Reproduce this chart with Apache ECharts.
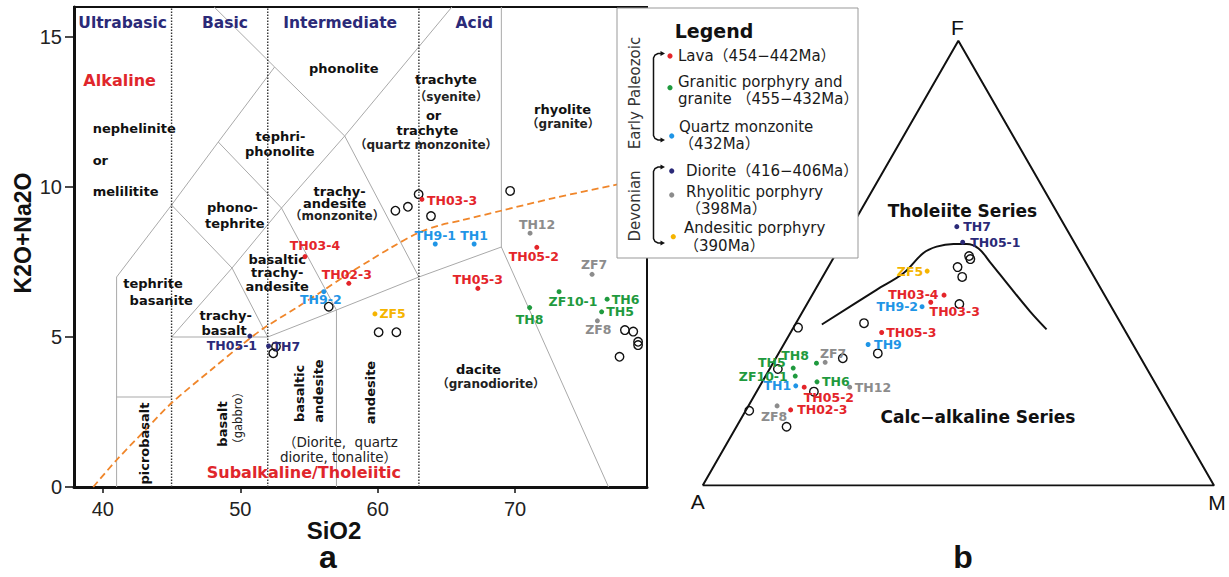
<!DOCTYPE html>
<html><head><meta charset="utf-8">
<script src="https://cdn.jsdelivr.net/npm/echarts@6/dist/echarts.min.js"></script>
<style>html,body{margin:0;padding:0;background:#fff}#c{width:1229px;height:577px}</style>
</head><body><div id="c"></div>
<script>
// ================= DATA =================
// TAS diagram: [SiO2, K2O+Na2O]
const lavaTasNames = ['TH03-3','TH03-4','TH02-3','TH05-3','TH05-2'];
const lavaTas = [[63.22,9.59],[54.71,7.68],[57.9,6.79],[67.29,6.62],[71.58,7.99]];
const graniteTasNames = ['TH8','ZF10-1','TH6','TH5'];
const graniteTas = [[71.06,5.98],[73.2,6.51],[76.7,6.26],[76.3,5.84]];
const qmTasNames = ['TH9-1','TH1','TH9-2'];
const qmTas = [[64.19,8.1],[67.02,8.1],[56.08,6.51]];
const dioriteTasNames = ['TH05-1','TH7'];
const dioriteTas = [[50.7,5.03],[52.06,4.7]];
const rhyTasNames = ['TH12','ZF7','ZF8'];
const rhyTas = [[71.09,8.46],[75.6,7.09],[75.99,5.54]];
const andTasNames = ['ZF5'];
const andTas = [[59.8,5.77]];
const refTas = [[52.6,4.68],[52.4,4.46],[56.44,6.01],[60.07,5.16],[61.36,5.16],[61.29,9.21],[62.2,9.34],
  [62.98,9.76],[63.88,9.03],[69.64,9.87],[77.99,5.23],[78.6,5.18],[78.95,4.84],[78.95,4.73],[77.6,4.34]];

// AFM diagram: [A, F, M] (%)
const lavaAfmNames = ['TH03-4','TH03-3','TH05-3','TH05-2','TH02-3'];
const lavaAfm = [[31.4,42.8,25.8],[34.8,41.2,24.0],[47.8,34.4,17.8],[69.1,22.1,8.8],[74.3,17.0,8.7]];
const graniteAfmNames = ['TH8','TH5','ZF10-1','TH6'];
const graniteAfm = [[64.0,27.5,8.5],[69.1,26.4,4.5],[69.6,24.6,5.8],[66.0,23.3,10.7]];
const qmAfmNames = ['TH9-2','TH9','TH1'];
const qmAfm = [[37.0,40.2,22.8],[51.8,31.7,16.5],[70.6,22.4,7.0]];
const dioriteAfmNames = ['TH7','TH05-1'];
const dioriteAfm = [[21.2,58.2,20.6],[21.8,54.7,23.5]];
const rhyAfmNames = ['ZF7','TH12','ZF8'];
const rhyAfm = [[62.2,27.7,10.1],[60.2,22.1,17.7],[76.5,17.9,5.6]];
const andAfmNames = ['ZF5'];
const andAfm = [[32.0,48.2,19.8]];
const refAfm = [[22.1,51.6,26.3],[22.2,50.9,26.9],[25.6,49.1,25.3],[25.8,46.9,27.3],[29.4,40.8,29.8],
  [50.2,36.5,13.3],[50.9,29.7,19.4],[63.6,35.5,0.9],[58.3,28.6,13.1],[67.7,21.1,11.2],[82.5,16.8,0.7],
  [77.0,13.2,9.8],[72.2,26.2,1.6]];

// TAS field boundaries (SiO2, K2O+Na2O)
const tasFieldLines = [
  [[41,0],[41,7],[45,9.4],[48.4,11.5],[52.5,14],[48.1,16]],
  [[41,3],[45,3]],
  [[45,5],[52,5]],
  [[45,9.4],[49.4,7.3],[53,9.3],[57,5.9]],
  [[45,5],[49.4,7.3],[52,5]],
  [[48.4,11.5],[53,9.3],[57.6,11.7],[63,7]],
  [[52.5,14],[57.6,11.7],[65.4,16]],
  [[52,5],[57,5.9],[63,7],[69,8],[76.8,0]],
  [[57,0],[57,5.9]],
  [[69,8],[69,16]]
];
const silicaDivisions = [45, 52, 63];
// Alkaline / subalkaline divide (Irvine & Baragar)
const alkalineDivide = [[39.3,0],[41,0.9],[43.3,2.0],[45,2.8],[48,3.95],[50,4.7],[51.7,5.29],[54,5.95],[56.1,6.57],
  [58,7.15],[59.5,7.57],[60.9,7.96],[62.9,8.46],[64.5,8.72],[66.2,8.9],[68.9,9.2],[72.8,9.63],[77.3,10.07],[79.6,10.3]];
// Tholeiite / calc-alkaline divide [A,F,M]
const tholeiiteDivide = [[58.6,36.2,5.2],[44.0,44.0,12.0],[36.9,47.7,15.4],[30.8,52.2,17.0],[27.4,53.7,18.9],
  [23.8,54.3,21.9],[21.2,54.3,24.5],[19.4,53.3,27.3],[18.7,50.3,31.0],[17.6,44.7,37.7],[16.4,39.1,44.5],[15.2,35.1,49.7]];
const afmCorners = [[100,0,0],[0,100,0],[0,0,100],[100,0,0]];

const xTicks = [40,50,60,70];
const yTicks = [0,5,10,15];

// field names [text, SiO2, K2O+Na2O, style]
const tasFieldNames = [
  ['Ultrabasic',41.44,15.48,'head'],['Basic',48.88,15.48,'head'],['Intermediate',57.27,15.48,'head'],['Acid',67.04,15.48,'head'],
  ['Alkaline',41.22,13.54,'red'],['Subalkaline/Tholeiitic',54.63,0.48,'red'],
  ['phonolite',57.53,13.96,'b'],
  ['nephelinite',39.26,11.96,'bl'],['or',39.26,10.87,'bl'],['melilitite',39.26,9.84,'bl'],
  ['tephri-',52.93,11.7,'b'],['phonolite',52.88,11.18,'b'],
  ['phono-',49.43,9.32,'b'],['tephrite',49.6,8.77,'b'],
  ['trachy-',57.23,9.84,'b'],['andesite',56.87,9.46,'b'],['（monzonite）',57.05,9.03,'s'],
  ['basaltic',52.69,7.57,'b'],['trachy-',52.69,7.14,'b'],['andesite',52.69,6.7,'b'],
  ['trachy-',48.94,5.73,'b'],['basalt',48.82,5.21,'b'],
  ['tephrite',43.65,6.79,'b'],['basanite',44.25,6.23,'b'],
  ['picrobasalt',43.0,1.45,'bv'],['basalt',48.7,2.1,'bv'],['（gabbro）',49.83,2.3,'sv'],
  ['basaltic',54.31,3.12,'bv'],['andesite',55.7,3.2,'bv'],['andesite',59.47,3.15,'bv'],
  ['（Diorite,  quartz',57.29,1.51,'n'],['diorite, tonalite）',57.15,0.99,'n'],
  ['dacite',67.34,3.92,'b'],['（granodiorite）',68.24,3.42,'s'],
  ['trachyte',64.97,13.57,'b'],['（syenite）',65.34,13.01,'s'],['or',64.07,12.4,'b'],['trachyte',63.62,11.9,'b'],
  ['（quartz monzonite）',63.52,11.4,'s'],
  ['rhyolite',73.45,12.59,'b'],['（granite）',73.5,12.1,'s']
];
// AFM texts [text, A, F, M]
const afmTexts = [['Tholeiite Series',18.35,61.7,19.95],['Calc−alkaline Series',38.43,15.47,46.1]];
const afmVertexNames = ['A','F','M'];

// legend
const legendTitle = 'Legend';
const legendGroups = ['Early Paleozoic','Devonian'];
const legendItems = [
  {lines:['Lava（454−442Ma）'], key:'lava'},
  {lines:['Granitic porphyry and','granite （455−432Ma）'], key:'granite'},
  {lines:['Quartz monzonite','（432Ma）'], key:'qm'},
  {lines:['Diorite（416−406Ma）'], key:'diorite'},
  {lines:['Rhyolitic porphyry','（398Ma）'], key:'rhy'},
  {lines:['Andesitic porphyry','（390Ma）'], key:'and'}
];

// ================= STYLE =================
const FONT = '"DejaVu Sans", "Noto Sans CJK SC", sans-serif';
const SANS = '"Liberation Sans", Arial, sans-serif';
const colors = {lava:'#e4252a', granite:'#1f9a3e', qm:'#1f95e6', diorite:'#2b2a78', rhy:'#8c8c8c', and:'#f5b400'};
const groups = [
  {key:'lava', tasN:lavaTasNames, tas:lavaTas, afmN:lavaAfmNames, afm:lavaAfm},
  {key:'granite', tasN:graniteTasNames, tas:graniteTas, afmN:graniteAfmNames, afm:graniteAfm},
  {key:'qm', tasN:qmTasNames, tas:qmTas, afmN:qmAfmNames, afm:qmAfm},
  {key:'diorite', tasN:dioriteTasNames, tas:dioriteTas, afmN:dioriteAfmNames, afm:dioriteAfm},
  {key:'rhy', tasN:rhyTasNames, tas:rhyTas, afmN:rhyAfmNames, afm:rhyAfm},
  {key:'and', tasN:andTasNames, tas:andTas, afmN:andAfmNames, afm:andAfm}
];
const tasLabelPlace = {
  'TH03-3':['right',[-2.5,1]],'TH03-4':['top',[10,3]],'TH02-3':['top',[-2,5]],'TH05-3':['top',[0,5]],'TH05-2':['bottom',[-3,-5]],
  'TH8':['bottom',[0,-2]],'ZF10-1':['bottom',[14,-4]],'TH6':['right',[-3,0]],'TH5':['right',[-3,0]],
  'TH9-1':['top',[0,5]],'TH1':['top',[0,5]],'TH9-2':['bottom',[-3,-6]],
  'TH05-1':['bottom',[-18,-4]],'TH7':['right',[-3.5,0]],
  'TH12':['top',[7,5]],'ZF7':['top',[2,4]],'ZF8':['bottom',[1,-5]],'ZF5':['right',[-3,0]]
};
const afmLabelPlace = {
  'TH7':['right',[-1,0]],'TH05-1':['right',[0,0]],'ZF5':['left',[3.5,0]],'TH03-4':['left',[2,-1]],'TH03-3':['bottom',[24,-4.5]],
  'TH9-2':['left',[3.5,0]],'TH05-3':['right',[-3,0]],'TH9':['right',[-1.5,0]],'TH8':['left',[0,-7.6]],'ZF7':['top',[8,5]],
  'TH5':['left',[0,-6]],'ZF10-1':['left',[0,0]],'TH6':['right',[-2.5,0]],'TH1':['left',[3,0]],'TH05-2':['bottom',[24.7,-3.5]],
  'TH12':['right',[-2.5,0]],'ZF8':['bottom',[-3,-3]],'TH02-3':['right',[-1,0]]
};
const textStyles = {
  head:{color:'#2b2a78', fontWeight:'bold', fontSize:15.5},
  red:{color:'#e0262b', fontWeight:'bold', fontSize:16},
  b:{color:'#111', fontWeight:'bold', fontSize:13},
  bl:{color:'#111', fontWeight:'bold', fontSize:13, align:'left'},
  s:{color:'#222', fontWeight:'bold', fontSize:12},
  n:{color:'#222', fontWeight:'normal', fontSize:13.5},
  bv:{color:'#111', fontWeight:'bold', fontSize:13, rotate:90},
  sv:{color:'#222', fontWeight:'normal', fontSize:11.5, rotate:90}
};
Object.keys(textStyles).forEach(k => { textStyles[k].lineHeight = textStyles[k].fontSize; });
const CLEAR = {color:'rgba(0,0,0,0)', borderWidth:0, opacity:1};
const PT_LABEL = {fontFamily:FONT, fontWeight:'bold', fontSize:12.5, lineHeight:12.5, opacity:1};

function afmXY(p){ const s=p[0]+p[1]+p[2]; const F=p[1]/s, M=p[2]/s; return [M+F/2, F]; }

// ================= OPTION =================
const series = [];
tasFieldLines.forEach(seg => series.push({type:'line', xAxisIndex:0, yAxisIndex:0, data:seg, symbol:'none', silent:true,
  lineStyle:{color:'#a9a9a9', width:1}, z:1}));
silicaDivisions.forEach(x => series.push({type:'line', xAxisIndex:0, yAxisIndex:0, data:[[x,0],[x,16]], symbol:'none', silent:true,
  lineStyle:{color:'#333', width:1.4, type:[1.5,1.5]}, z:2}));
series.push({type:'line', xAxisIndex:0, yAxisIndex:0, data:alkalineDivide, symbol:'none', smooth:0.3, silent:true,
  lineStyle:{color:'#f0862a', width:1.8, type:[7,4]}, z:3});
series.push({type:'scatter', xAxisIndex:0, yAxisIndex:0, silent:true, symbolSize:1, itemStyle:CLEAR, z:4,
  data: tasFieldNames.map(t => ({name:t[0], value:[t[1],t[2]],
    label:Object.assign({show:true, position:'inside', formatter:'{b}', fontFamily:FONT, align:'center', verticalAlign:'middle', opacity:1}, textStyles[t[3]])}))});
series.push({type:'scatter', xAxisIndex:0, yAxisIndex:0, data:refTas, symbol:'circle', symbolSize:8.5,
  itemStyle:{color:'rgba(255,255,255,0)', borderColor:'#111', borderWidth:1.4, opacity:1}, z:5});
groups.forEach(g => {
  series.push({type:'scatter', xAxisIndex:0, yAxisIndex:0, symbolSize:5, itemStyle:{color:colors[g.key], opacity:1}, z:6,
    data:g.tas.map((v,i) => { const pl = tasLabelPlace[g.tasN[i]] || ['right',[0,0]];
      return {name:g.tasN[i], value:v, label:Object.assign({show:true, formatter:'{b}', position:pl[0], offset:pl[1], distance:5,
        color:colors[g.key]}, PT_LABEL)}; })});
});
// AFM
series.push({type:'line', xAxisIndex:1, yAxisIndex:1, data:afmCorners.map(afmXY), symbol:'none', silent:true,
  lineStyle:{color:'#111', width:2}, z:1});
series.push({type:'line', xAxisIndex:1, yAxisIndex:1, data:tholeiiteDivide.map(afmXY), symbol:'none', smooth:0.35, silent:true,
  lineStyle:{color:'#111', width:2}, z:2});
series.push({type:'scatter', xAxisIndex:1, yAxisIndex:1, data:refAfm.map(afmXY), symbol:'circle', symbolSize:8.5,
  itemStyle:{color:'rgba(255,255,255,0)', borderColor:'#111', borderWidth:1.4, opacity:1}, z:5});
groups.forEach(g => {
  series.push({type:'scatter', xAxisIndex:1, yAxisIndex:1, symbolSize:5, itemStyle:{color:colors[g.key], opacity:1}, z:6,
    data:g.afm.map((v,i) => { const pl = afmLabelPlace[g.afmN[i]] || ['right',[0,0]];
      return {name:g.afmN[i], value:afmXY(v), label:Object.assign({show:true, formatter:'{b}', position:pl[0], offset:pl[1], distance:5,
        color:colors[g.key]}, PT_LABEL)}; })});
});
series.push({type:'scatter', xAxisIndex:1, yAxisIndex:1, silent:true, symbolSize:1, itemStyle:CLEAR, z:4,
  data: afmTexts.map(t => ({name:t[0], value:afmXY([t[1],t[2],t[3]]),
    label:{show:true, position:'inside', formatter:'{b}', fontFamily:FONT, fontWeight:'bold', fontSize:17, lineHeight:17, color:'#111', opacity:1}}))});
const vertexPlace = {A:['bottom',[-5,0]], F:['top',[-1,3]], M:['bottom',[3,1]]};
series.push({type:'scatter', xAxisIndex:1, yAxisIndex:1, silent:true, symbolSize:1, itemStyle:CLEAR, z:4,
  data: afmVertexNames.map((n,i) => ({name:n, value:afmXY(afmCorners[i]),
    label:{show:true, position:vertexPlace[n][0], offset:vertexPlace[n][1], distance:5, formatter:'{b}', fontFamily:SANS, fontSize:21, color:'#111', opacity:1}}))});

// legend graphics
const G = [];
G.push({type:'rect', shape:{x:617, y:8, width:241, height:250}, style:{fill:'#fff', stroke:'#999', lineWidth:1}, z:100});
G.push({type:'text', x:714, y:31, style:{text:legendTitle, font:'bold 19px "DejaVu Sans", sans-serif', fill:'#111', align:'center', verticalAlign:'middle'}, z:101});
G.push({type:'text', x:635, y:93, rotation:Math.PI/2, style:{text:legendGroups[0], font:'15px "DejaVu Sans", sans-serif', fill:'#333', align:'center', verticalAlign:'middle'}, z:101});
G.push({type:'text', x:635, y:206, rotation:Math.PI/2, style:{text:legendGroups[1], font:'15px "DejaVu Sans", sans-serif', fill:'#333', align:'center', verticalAlign:'middle'}, z:101});
[[53.5,140],[167,243]].forEach(b => {
  const t=b[0], bt=b[1];
  G.push({type:'polyline', shape:{points:[[662,t],[658,t],[655,t+1.5],[653.5,t+4.5],[653.5,bt-4.5],[655,bt-1.5],[658,bt],[662,bt]]},
    style:{stroke:'#111', lineWidth:1.5, fill:null}, z:101});
  G.push({type:'polygon', shape:{points:[[665,t],[660.5,t-2.6],[660.5,t+2.6]]}, style:{fill:'#111'}, z:101});
  G.push({type:'polygon', shape:{points:[[665,bt],[660.5,bt-2.6],[660.5,bt+2.6]]}, style:{fill:'#111'}, z:101});
});
const legendLayout = [
  {dot:[670,56], x:678, ys:[56]},
  {dot:[670,87.7], x:678, ys:[81.7,99.3]},
  {dot:[671.7,136], x:679, ys:[126.7,144]},
  {dot:[671.7,171], x:686, ys:[171]},
  {dot:[671.7,195], x:686, ys:[191.7,209]},
  {dot:[673.3,236.7], x:684, ys:[228.3,245.7]}
];
legendItems.forEach((it,i) => {
  const L = legendLayout[i];
  G.push({type:'circle', shape:{cx:L.dot[0], cy:L.dot[1], r:2.6}, style:{fill:colors[it.key]}, z:101});
  it.lines.forEach((ln,j) => G.push({type:'text', x:L.x, y:L.ys[j], style:{text:ln, font:'15px "DejaVu Sans", "Noto Sans CJK SC", sans-serif', fill:'#1a1a1a', align:'left', verticalAlign:'middle'}, z:101}));
});
// axis titles & panel letters
G.push({type:'text', x:23, y:233, rotation:Math.PI/2, style:{text:'K2O+Na2O', font:'bold 23px "Liberation Sans", Arial, sans-serif', fill:'#111', align:'center', verticalAlign:'middle'}, z:50});
G.push({type:'text', x:334, y:530, style:{text:'SiO2', font:'bold 24px "Liberation Sans", Arial, sans-serif', fill:'#111', align:'center', verticalAlign:'middle'}, z:50});
G.push({type:'text', x:328, y:557, style:{text:'a', font:'bold 32px "Liberation Sans", Arial, sans-serif', fill:'#111', align:'center', verticalAlign:'middle'}, z:50});
G.push({type:'text', x:963, y:557, style:{text:'b', font:'bold 32px "Liberation Sans", Arial, sans-serif', fill:'#111', align:'center', verticalAlign:'middle'}, z:50});

const option = {
  animation:false,
  backgroundColor:'#fff',
  grid:[
    {left:74, top:7, width:573, height:480, show:true, borderColor:'#111', borderWidth:2, backgroundColor:'transparent'},
    {left:702.7, top:40.7, width:511.3, height:444.8}
  ],
  xAxis:[
    {gridIndex:0, type:'value', min:37.9, max:79.6,
      axisLine:{show:true, onZero:false, lineStyle:{color:'#111', width:3}},
      axisTick:{show:true, length:6, customValues:xTicks, lineStyle:{color:'#111', width:1.5}},
      axisLabel:{customValues:xTicks, color:'#222', fontSize:20, fontFamily:SANS, margin:12},
      splitLine:{show:false}},
    {gridIndex:1, type:'value', min:0, max:1, show:false}
  ],
  yAxis:[
    {gridIndex:0, type:'value', min:0, max:16,
      axisLine:{show:true, onZero:false, lineStyle:{color:'#111', width:3}},
      axisTick:{show:true, length:9, customValues:yTicks, lineStyle:{color:'#111', width:1.5}},
      axisLabel:{customValues:yTicks, color:'#222', fontSize:20, fontFamily:SANS, margin:12},
      splitLine:{show:false}},
    {gridIndex:1, type:'value', min:0, max:1, show:false}
  ],
  series:series,
  graphic:{elements:G}
};
const chart = echarts.init(document.getElementById('c'), null, {renderer:'svg', width:1229, height:577});
chart.setOption(option);
</script>
</body></html>
